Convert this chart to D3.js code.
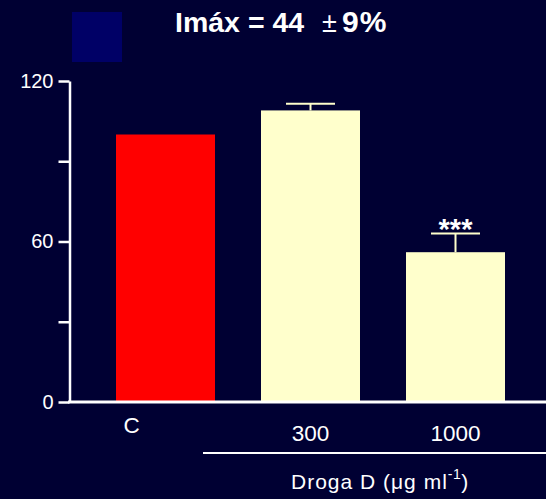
<!DOCTYPE html>
<html>
<head>
<meta charset="utf-8">
<script src="https://cdn.jsdelivr.net/npm/d3@7"></script>
<style>
  html, body { margin: 0; padding: 0; background: #000033; }
  svg { display: block; }
  text { font-family: "Liberation Sans", Arial, sans-serif; fill: #ffffff; }
</style>
</head>
<body>
<svg id="chart" width="546" height="499"></svg>
<script>
const categories = ["C", "300", "1000"];
const values = [100, 109, 56];
const errors = [0, 2.5, 7];
const barColors = ["#ff0000", "#ffffcc", "#ffffcc"];
const significance = ["", "", "***"];
const yTicks = [0, 30, 60, 90, 120];
const yTickLabels = ["0", "", "60", "", "120"];
const titleMain = "Imáx = 44";
const titlePm = "±";
const titleEnd = "9%";
const groupLabel = "Droga D (μg ml";

const svg = d3.select("#chart");
svg.append("rect").attr("width", 546).attr("height", 499).attr("fill", "#000033");

const x = d3.scaleBand().domain(categories).range([116, 505]).paddingInner(46 / 145).paddingOuter(0);
const y = d3.scaleLinear().domain([0, 120]).range([402, 81]);

// Legend-like square
svg.append("rect").attr("x", 72).attr("y", 12).attr("width", 50).attr("height", 50).attr("fill", "#000066");

// Title
svg.append("text").attr("x", 175).attr("y", 32).attr("font-size", 28.5).attr("font-weight", "bold").text(titleMain);
svg.append("text").attr("x", 322).attr("y", 32).attr("font-size", 27).text(titlePm);
svg.append("text").attr("x", 342).attr("y", 32).attr("font-size", 30).attr("letter-spacing", 1).attr("font-weight", "bold").text(titleEnd);

// Bars
svg.selectAll("rect.bar").data(categories).join("rect")
  .attr("class", "bar")
  .attr("x", d => x(d))
  .attr("y", (d, i) => y(values[i]))
  .attr("width", x.bandwidth())
  .attr("height", (d, i) => y(0) - y(values[i]))
  .attr("fill", (d, i) => barColors[i]);

// Error bars
const eb = svg.append("g").attr("stroke", "#ffffcc").attr("stroke-width", 2);
categories.forEach((c, i) => {
  if (!errors[i]) return;
  const cx = x(c) + x.bandwidth() / 2;
  eb.append("line").attr("x1", cx).attr("x2", cx).attr("y1", y(values[i])).attr("y2", y(values[i] + errors[i]));
  eb.append("line").attr("x1", cx - 24.5).attr("x2", cx + 24.5).attr("y1", y(values[i] + errors[i])).attr("y2", y(values[i] + errors[i]));
  if (significance[i]) {
    svg.append("text").attr("x", cx).attr("y", y(values[i] + errors[i]) + 6)
      .attr("text-anchor", "middle").attr("font-size", 29).attr("font-weight", "bold").text(significance[i]);
  }
});

// Y axis
const yAxis = d3.axisLeft(y).tickValues(yTicks).tickFormat((d, i) => yTickLabels[i]).tickSize(11).tickSizeOuter(0).tickPadding(5);
const gy = svg.append("g").attr("transform", "translate(69.5,0)").call(yAxis);
gy.select(".domain").attr("stroke", "#ffffff").attr("stroke-width", 2.5);
gy.selectAll(".tick line").attr("stroke", "#ffffff").attr("stroke-width", 2.5);
gy.selectAll(".tick text").attr("font-size", 20).attr("fill", "#ffffff").attr("font-family", "Liberation Sans, Arial, sans-serif");

// X baseline
svg.append("line").attr("x1", 68).attr("x2", 546).attr("y1", y(0)).attr("y2", y(0)).attr("stroke", "#ffffff").attr("stroke-width", 3);

// Category labels
categories.forEach((c, i) => {
  const cx = x(c) + x.bandwidth() / 2;
  svg.append("text")
    .attr("x", i === 0 ? cx - 34 : cx)
    .attr("y", i === 0 ? 433 : 441)
    .attr("text-anchor", "middle").attr("font-size", 22.5).text(c);
});

// Group line and label
svg.append("line").attr("x1", 203).attr("x2", 546).attr("y1", 453).attr("y2", 453).attr("stroke", "#ffffff").attr("stroke-width", 2);
const gl = svg.append("text").attr("x", 291).attr("y", 489).attr("font-size", 21).attr("letter-spacing", 1);
gl.append("tspan").text(groupLabel);
gl.append("tspan").attr("font-size", 14).attr("dy", -10).attr("letter-spacing", 0.5).text("-1");
gl.append("tspan").attr("dy", 10).text(")");
</script>
</body>
</html>
